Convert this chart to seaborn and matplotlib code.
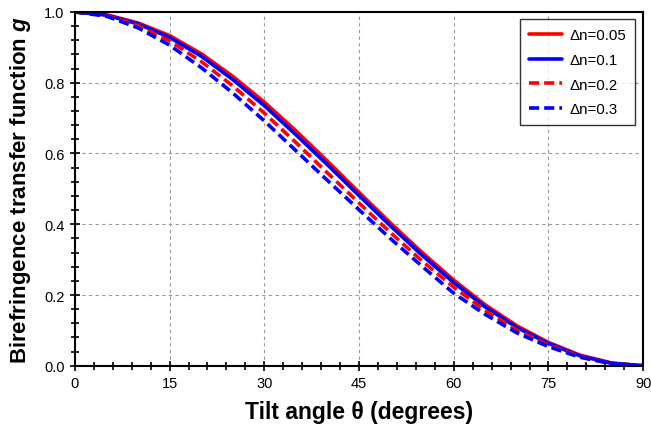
import numpy as np
import pandas as pd
import matplotlib
matplotlib.use("Agg")
import matplotlib.pyplot as plt
from matplotlib.ticker import MultipleLocator
import seaborn as sns

# values (tilt angle in degrees vs g)
angle = [0, 5, 10, 15, 20, 25, 30, 35, 40, 45, 50, 55, 60, 65, 70, 75, 80, 85, 90]
g_005 = [1.000, 0.992, 0.969, 0.933, 0.882, 0.818, 0.745, 0.664, 0.578, 0.490,
         0.403, 0.320, 0.242, 0.172, 0.113, 0.066, 0.030, 0.008, 0.000]
g_01 = [1.000, 0.991, 0.966, 0.928, 0.875, 0.809, 0.735, 0.653, 0.568, 0.481,
        0.395, 0.312, 0.235, 0.166, 0.108, 0.063, 0.028, 0.007, 0.000]
g_02 = [1.000, 0.990, 0.961, 0.918, 0.860, 0.791, 0.714, 0.631, 0.545, 0.460,
        0.376, 0.296, 0.222, 0.156, 0.101, 0.058, 0.026, 0.006, 0.000]
g_03 = [1.000, 0.988, 0.955, 0.906, 0.843, 0.771, 0.692, 0.608, 0.524, 0.441,
        0.359, 0.281, 0.205, 0.145, 0.093, 0.054, 0.024, 0.006, 0.000]

labels = ["\u0394n=0.05", "\u0394n=0.1", "\u0394n=0.2", "\u0394n=0.3"]
series = [g_005, g_01, g_02, g_03]
colors = ["#ff0000", "#0000ff", "#ff0000", "#0000ff"]
dashed = [False, False, True, True]

df = pd.concat(
    [pd.DataFrame({"angle": angle, "g": s, "dn": lab}) for s, lab in zip(series, labels)],
    ignore_index=True,
)

sns.set_style("ticks")
plt.rcParams["font.family"] = ["Liberation Sans", "DejaVu Sans"]
plt.rcParams["text.color"] = "black"
plt.rcParams["axes.labelcolor"] = "black"
plt.rcParams["mathtext.fontset"] = "custom"
plt.rcParams["mathtext.bfit"] = "Liberation Sans:italic:bold"
plt.rcParams["mathtext.it"] = "Liberation Sans:italic"
plt.rcParams["mathtext.rm"] = "Liberation Sans"

fig, ax = plt.subplots(figsize=(6.51, 4.31), dpi=100)
fig.subplots_adjust(left=0.115, right=0.988, top=0.970, bottom=0.149)

for lab, col, d in zip(labels, colors, dashed):
    sub = df[df["dn"] == lab]
    sns.lineplot(data=sub, x="angle", y="g", ax=ax, color=col, lw=2.6,
                 label=lab, linestyle=(0, (2.8, 1.4)) if d else "-")

ax.set_xlim(0, 90)
ax.set_ylim(0, 1.0)
ax.xaxis.set_major_locator(MultipleLocator(15))
ax.xaxis.set_minor_locator(MultipleLocator(3))
ax.yaxis.set_major_locator(MultipleLocator(0.2))
ax.yaxis.set_minor_locator(MultipleLocator(0.04))
ax.yaxis.set_major_formatter(matplotlib.ticker.FormatStrFormatter("%.1f"))

ax.tick_params(which="both", direction="inout", width=1.2, colors="black",
               labelsize=10.5, labelcolor="black", top=False, right=False)
ax.tick_params(which="major", length=7, pad=4)
ax.tick_params(which="minor", length=6)

for sp in ax.spines.values():
    sp.set_linewidth(1.5)
    sp.set_color("black")
    sp.set_visible(True)

ax.grid(True, which="major", color="#999999", linestyle=(0, (3, 3)), lw=0.8)
ax.set_axisbelow(True)

ax.set_xlabel("Tilt angle \u03b8 (degrees)", fontsize=16.5, fontweight="bold",
              labelpad=7, color="black")
ax.set_ylabel(r"Birefringence transfer function $\boldsymbol{g}$", fontsize=16,
              fontweight="bold", labelpad=8, color="black")

leg = ax.legend(loc="upper right", bbox_to_anchor=(0.986, 0.980), borderaxespad=0,
                fontsize=10.8, frameon=True, fancybox=False, edgecolor="black",
                handlelength=2.2, labelspacing=0.72, borderpad=0.6, handletextpad=0.5)
leg.get_frame().set_linewidth(1.0)

fig.savefig("out.png", dpi=100)
